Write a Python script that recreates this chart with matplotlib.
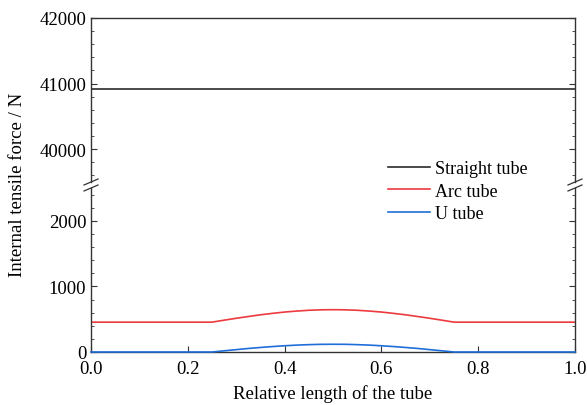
import matplotlib
matplotlib.use("Agg")
import matplotlib.pyplot as plt
from matplotlib.ticker import MultipleLocator

plt.rcParams['font.family'] = ['Liberation Serif', 'DejaVu Serif']

# Data
x_straight = [0.0, 1.0]
straight = [40925, 40925]

x_curve = [0.0, 0.25, 0.275, 0.30, 0.325, 0.35, 0.375, 0.40, 0.425, 0.45, 0.475, 0.50,
           0.525, 0.55, 0.575, 0.60, 0.625, 0.65, 0.675, 0.70, 0.725, 0.75, 1.0]
arc = [455, 455, 485, 514, 541, 567, 589, 609, 624, 636, 643, 645,
       643, 636, 624, 609, 589, 567, 541, 514, 485, 455, 455]
u_tube = [0, 0, 18, 36, 54, 69, 83, 95, 105, 112, 117, 118,
          117, 112, 105, 95, 83, 69, 54, 36, 18, 0, 0]

labels = ["Straight tube", "Arc tube", "U tube"]
colors = ["#2b2b2b", "#ec3a3f", "#1f6ed8"]

W, H = 587, 406
fig = plt.figure(figsize=(W / 100, H / 100), dpi=100)

left = 91 / W
right = 575 / W
ax_top = fig.add_axes([left, (H - 183) / H, right - left, (183 - 19) / H])
ax_bot = fig.add_axes([left, (H - 353) / H, right - left, (353 - 189) / H])

fs = 13.5
spine_col = '#333333'
for ax in (ax_top, ax_bot):
    ax.set_xlim(0, 1)
    ax.tick_params(axis='both', which='both', direction='in', labelsize=fs,
                   colors=spine_col, labelcolor='black')
    ax.tick_params(axis='y', which='major', length=4, right=True)
    ax.tick_params(axis='y', which='minor', length=2.5, right=True)
    ax.yaxis.set_minor_locator(MultipleLocator(200))
    ax.yaxis.set_major_locator(MultipleLocator(1000))
    for sp in ax.spines.values():
        sp.set_linewidth(1.0)
        sp.set_color(spine_col)

ax_top.set_ylim(39500, 42000)
ax_bot.set_ylim(0, 2500)
ax_top.spines['bottom'].set_visible(False)
ax_bot.spines['top'].set_visible(False)
ax_top.tick_params(axis='x', which='both', bottom=False, top=False, labelbottom=False)
ax_bot.tick_params(axis='x', which='major', length=4, top=False, bottom=True)
ax_bot.xaxis.set_major_locator(MultipleLocator(0.2))
ax_bot.xaxis.set_major_formatter(plt.FuncFormatter(lambda v, p: f"{v:.1f}"))
ax_top.set_yticks([40000, 41000, 42000])
ax_bot.set_yticks([0, 1000, 2000])
ax_top.set_yticklabels(["40000", "41000", "42000"])
ax_bot.set_yticklabels(["0", "1000", "2000"])
ax_bot.tick_params(axis='x', pad=6)

h1, = ax_top.plot(x_straight, straight, color=colors[0], lw=1.2, label=labels[0])
h2, = ax_bot.plot(x_curve, arc, color=colors[1], lw=1.2, label=labels[1])
h3, = ax_bot.plot(x_curve, u_tube, color=colors[2], lw=1.2, label=labels[2],
                  clip_on=False, zorder=5)

# Break marks
for yb in (183, 189):
    for xc in (91, 575):
        fig.add_artist(plt.Line2D([(xc - 7) / W, (xc + 7) / W],
                                  [(H - yb - 3) / H, (H - yb + 3) / H],
                                  color=spine_col, lw=0.9))

fig.legend([h1, h2, h3], labels, loc='upper left',
           bbox_to_anchor=(381 / W, (H - 154) / H), frameon=False,
           fontsize=13, handlelength=2.3, handletextpad=0.3, labelspacing=0.3,
           borderaxespad=0)

ax_bot.set_xlabel("Relative length of the tube", fontsize=fs, labelpad=5)
fig.text(18 / W, (H - 185) / H, "Internal tensile force / N", rotation=90,
         ha='center', va='center', fontsize=fs)

fig.savefig("out.png", dpi=100)
